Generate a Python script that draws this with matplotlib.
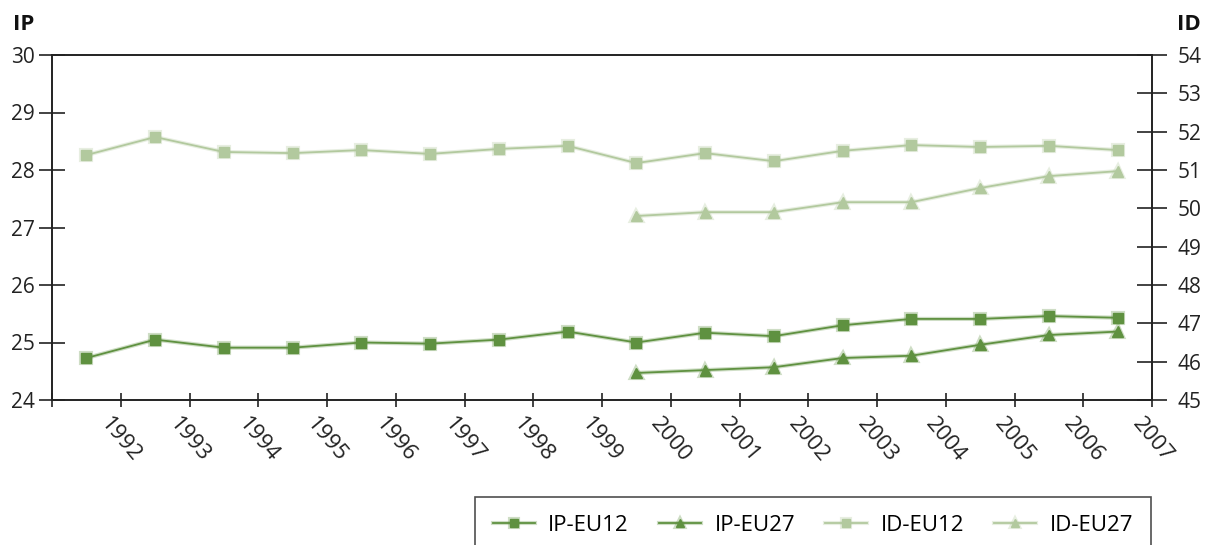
import matplotlib.pyplot as plt
import matplotlib.patheffects as pe
import numpy as np

# jaren (labels staan op de rechterrand van elke categorie)
jaren = [str(j) for j in range(1992, 2008)]

ip_eu12 = [24.73, 25.05, 24.91, 24.91, 25.00, 24.98, 25.05, 25.19,
           25.00, 25.17, 25.11, 25.30, 25.41, 25.41, 25.46, 25.43]
ip_eu27 = [24.47, 24.52, 24.57, 24.73, 24.77, 24.96, 25.13, 25.19]
id_eu12 = [51.39, 51.86, 51.47, 51.44, 51.52, 51.42, 51.55, 51.63,
           51.18, 51.44, 51.23, 51.50, 51.65, 51.60, 51.63, 51.52]
id_eu27 = [49.80, 49.90, 49.90, 50.16, 50.16, 50.53, 50.84, 50.97]

donker = '#5f9140'
licht = '#b2c99e'

plt.rcParams['font.family'] = ['Open Sans', 'DejaVu Sans']

x_all = np.arange(len(ip_eu12)) + 0.5
x_27 = x_all[len(ip_eu12) - len(ip_eu27):]

fig = plt.figure(figsize=(12.12, 5.45), dpi=100)
ax = fig.add_axes([52 / 1212, 1 - 400 / 545, 1100 / 1212, 345 / 545])
ax2 = ax.twinx()

halo = lambda c: [pe.Stroke(linewidth=3.0, foreground=c, alpha=0.3), pe.Normal()]

l1, = ax.plot(x_all, ip_eu12, color=donker, lw=1.3, marker='s', ms=7.2,
              label='IP-EU12', path_effects=halo(donker))
l2, = ax.plot(x_27, ip_eu27, color=donker, lw=1.3, marker='^', ms=7.8,
              label='IP-EU27', path_effects=halo(donker))
l3, = ax2.plot(x_all, id_eu12, color=licht, lw=1.3, marker='s', ms=7.2,
               label='ID-EU12', path_effects=halo(licht))
l4, = ax2.plot(x_27, id_eu27, color=licht, lw=1.3, marker='^', ms=7.8,
               label='ID-EU27', path_effects=halo(licht))

ax.set_xlim(0, 16)
ax.set_ylim(24, 30)
ax2.set_ylim(45, 54)
ax.set_yticks(range(24, 31))
ax2.set_yticks(range(45, 55))
ax.set_xticks(range(17))
ax.set_xticklabels([''] + jaren, rotation=-50, ha='center', va='top')

for a in (ax, ax2):
    for s in a.spines.values():
        s.set_color('#222222')
        s.set_linewidth(1.2)

ax.tick_params(axis='y', direction='inout', length=19, width=1.2,
               labelsize=15, pad=3, colors='#222222')
ax2.tick_params(axis='y', direction='inout', length=21, width=1.2,
                labelsize=15, pad=8, colors='#222222')
ax.tick_params(axis='x', direction='inout', length=10, width=1.2,
               labelsize=16, pad=5, colors='#222222')

fig.text(13 / 1212, 1 - 24 / 545, 'IP', fontsize=16, fontweight='bold',
         va='center', ha='left', color='#111111')
fig.text(1201 / 1212, 1 - 24 / 545, 'ID', fontsize=16, fontweight='bold',
         va='center', ha='right', color='#111111')

leg = fig.legend(handles=[l1, l2, l3, l4], loc='upper right',
                 bbox_to_anchor=(1151 / 1212, 1 - 497 / 545), ncol=4,
                 fontsize=16, frameon=True, fancybox=False, handlelength=1.9,
                 columnspacing=1.35, borderpad=0.8, handletextpad=0.6,
                 borderaxespad=0)
leg.get_frame().set_edgecolor('#222222')
leg.get_frame().set_linewidth(1.2)
for h in leg.legend_handles:
    h.set_markersize(6)

fig.savefig('out.png', dpi=100)
